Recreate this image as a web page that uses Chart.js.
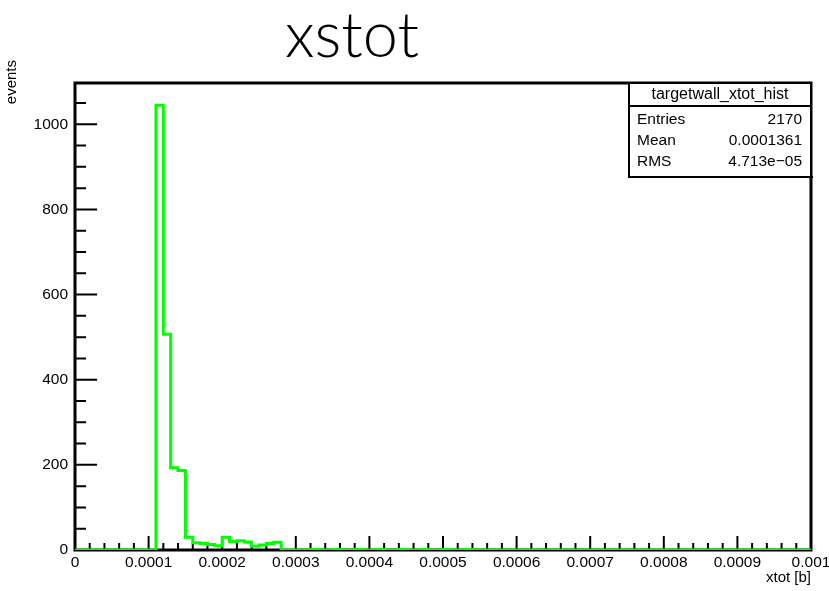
<!DOCTYPE html>
<html><head><meta charset="utf-8">
<script src="https://cdn.jsdelivr.net/npm/chart.js@4/dist/chart.umd.min.js"></script>
<style>html,body{margin:0;padding:0;background:#fff;}#wrap{width:829px;height:591px;position:relative;}</style>
</head><body><div id="wrap"><canvas id="c" width="829" height="591"></canvas></div>
<script>
// ---- data ----
const chartTitle = 'xstot';
const histName = 'targetwall_xtot_hist';
const xAxisTitle = 'xtot [b]';
const yAxisTitle = 'events';
const xMin = 0, xMax = 0.001;
const yMax = 1097;
const binCounts = [
  0,0,0,0,0,0,0,0,0,0,
  0,1045,507,193,187,30,17,15,13,10,
  30,20,22,19,9,12,15,18,0,0,
  0,0,1,0,0,1,0,0,1,0,
  0,1,0,0,1,0,0,1,0,0,
  1,0,0,1,0,0,0,0,0,0,
  0,0,0,0,0,0,0,0,0,0,
  0,0,0,0,0,0,0,0,0,0,
  0,0,0,0,0,0,0,0,0,0,
  0,0,0,0,0,0,0,0,0,0
];
const xTickValues = [0,0.0001,0.0002,0.0003,0.0004,0.0005,0.0006,0.0007,0.0008,0.0009,0.001];
const xTickLabels = ['0','0.0001','0.0002','0.0003','0.0004','0.0005','0.0006','0.0007','0.0008','0.0009','0.001'];
const yTickValues = [0,200,400,600,800,1000];
const yTickLabels = ['0','200','400','600','800','1000'];
const statsLabels = ['Entries','Mean','RMS'];
const statsValues = ['2170','0.0001361','4.713e\u221205'];

// ---- build ----
const binWidth = (xMax - xMin) / binCounts.length;
const points = binCounts.map((c, i) => ({x: xMin + i * binWidth, y: c}));
points.push({x: xMax, y: binCounts[binCounts.length - 1]});

const FONT = '"Liberation Sans", Arial, Helvetica, sans-serif';

const rootPlugin = {
  id: 'rootStyle',
  beforeDatasetsDraw(chart) {
    const ctx = chart.ctx, a = chart.chartArea;
    const xs = chart.scales.x, ys = chart.scales.y;
    ctx.save();
    ctx.strokeStyle = '#000';
    const xMajorLen = 0.03 * (a.bottom - a.top);
    ctx.lineWidth = 2;
    ctx.beginPath();
    for (let i = 0; i < xTickValues.length; i++) {
      const px = xs.getPixelForValue(xTickValues[i]);
      ctx.moveTo(px, a.bottom); ctx.lineTo(px, a.bottom - xMajorLen);
      if (i < xTickValues.length - 1) {
        const step = (xTickValues[i + 1] - xTickValues[i]) / 5;
        for (let k = 1; k < 5; k++) {
          const pm = xs.getPixelForValue(xTickValues[i] + k * step);
          ctx.moveTo(pm, a.bottom); ctx.lineTo(pm, a.bottom - xMajorLen / 2);
        }
      }
    }
    const yMajorLen = 0.03 * (a.right - a.left);
    const ystep = (yTickValues[1] - yTickValues[0]) / 4;
    for (let i = 0; i < yTickValues.length; i++) {
      const py = ys.getPixelForValue(yTickValues[i]);
      ctx.moveTo(a.left, py); ctx.lineTo(a.left + yMajorLen, py);
      for (let k = 1; k < 4; k++) {
        const v = yTickValues[i] + k * ystep;
        if (v > ys.max) break;
        const pm = ys.getPixelForValue(v);
        ctx.moveTo(a.left, pm); ctx.lineTo(a.left + yMajorLen / 2, pm);
      }
    }
    const lastMajor = yTickValues[yTickValues.length - 1];
    for (let v = lastMajor + ystep; v <= ys.max; v += ystep) {
      const pm = ys.getPixelForValue(v);
      ctx.moveTo(a.left, pm); ctx.lineTo(a.left + yMajorLen / 2, pm);
    }
    ctx.stroke();
    ctx.lineWidth = 3;
    ctx.strokeRect(a.left, a.top, a.right - a.left, a.bottom - a.top);
    ctx.restore();
  },
  afterDraw(chart) {
    const ctx = chart.ctx, a = chart.chartArea;
    ctx.save();
    const bx = 629, by = a.top, bw = a.right - bx, bh = 94, hh = 23;
    ctx.fillStyle = '#fff';
    ctx.fillRect(bx, by, bw, bh);
    ctx.strokeStyle = '#000';
    ctx.lineWidth = 2;
    ctx.strokeRect(bx, by, bw, bh);
    ctx.beginPath(); ctx.moveTo(bx, by + hh); ctx.lineTo(bx + bw, by + hh); ctx.stroke();
    ctx.fillStyle = '#000';
    ctx.fillRect(bx + bw - 1, by + 2, 2, bh);
    ctx.fillRect(bx + 2, by + bh - 1, bw, 2);
    ctx.textBaseline = 'middle';
    ctx.font = '16px ' + FONT;
    ctx.textAlign = 'center';
    ctx.fillText(histName, bx + bw / 2, by + 12);
    ctx.font = '15.5px ' + FONT;
    for (let i = 0; i < statsLabels.length; i++) {
      const ry = by + 37 + i * 21;
      ctx.textAlign = 'left';
      ctx.fillText(statsLabels[i], bx + 8, ry);
      ctx.textAlign = 'right';
      ctx.fillText(statsValues[i], bx + bw - 9, ry);
    }
    // title
    ctx.font = '300 63px "Lato Light", Lato, "Open Sans", sans-serif';
    ctx.textAlign = 'center';
    ctx.textBaseline = 'alphabetic';
    ctx.fillText(chartTitle, 352, 57);
    // axis titles
    ctx.font = '15px ' + FONT;
    ctx.textAlign = 'right';
    ctx.textBaseline = 'middle';
    ctx.fillText(xAxisTitle, a.right, 578);
    ctx.translate(12, 60);
    ctx.rotate(-Math.PI / 2);
    ctx.textAlign = 'right';
    ctx.fillText(yAxisTitle, 0, 0);
    ctx.restore();
  }
};

new Chart(document.getElementById('c'), {
  type: 'line',
  data: { datasets: [{
    data: points,
    stepped: 'before',
    borderColor: '#00ff00',
    borderWidth: 3,
    pointRadius: 0,
    fill: false,
    tension: 0
  }]},
  options: {
    responsive: false,
    animation: false,
    layout: { padding: { top: 83, right: 18, left: 0, bottom: 0 } },
    plugins: { legend: { display: false }, tooltip: { enabled: false }, title: { display: false } },
    scales: {
      x: {
        type: 'linear', min: xMin, max: xMax, position: 'bottom',
        grid: { display: false, drawTicks: false },
        border: { display: false },
        afterBuildTicks: s => { s.ticks = xTickValues.map(v => ({value: v})); },
        afterFit: s => { s.height = 41; s.paddingLeft = 0; s.paddingRight = 0; },
        ticks: {
          autoSkip: false, maxRotation: 0, minRotation: 0, padding: 3, color: '#000',
          font: { family: FONT, size: 15.5 },
          callback: (v, i) => xTickLabels[i]
        }
      },
      y: {
        type: 'linear', min: 0, max: yMax,
        grid: { display: false, drawTicks: false },
        border: { display: false },
        afterBuildTicks: s => { s.ticks = yTickValues.map(v => ({value: v})); },
        afterFit: s => { s.width = 75; s.paddingTop = 0; s.paddingBottom = 0; },
        ticks: {
          padding: 7, color: '#000',
          font: { family: FONT, size: 15.5 },
          callback: (v, i) => yTickLabels[i]
        }
      }
    }
  },
  plugins: [rootPlugin]
});
</script></body></html>
